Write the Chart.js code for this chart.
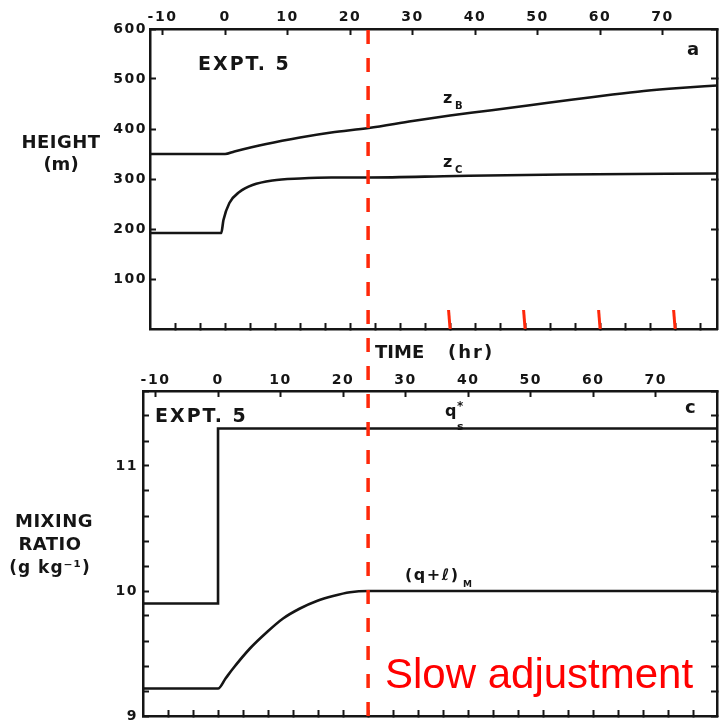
<!DOCTYPE html>
<html>
<head>
<meta charset="utf-8">
<script src="https://cdn.jsdelivr.net/npm/chart.js@4.4.1/dist/chart.umd.min.js"></script>
<style>
  html, body { margin: 0; padding: 0; background: #fff; }
  #wrap { position: relative; width: 719px; height: 720px; overflow: hidden; }
  canvas { position: absolute; left: 0; top: 0; }
</style>
</head>
<body>
<div id="wrap">
  <canvas id="heightChart" width="719" height="360"></canvas>
  <canvas id="mixingChart" width="719" height="720"></canvas>
</div>
<script>
// time axis (hr)
const timeLabelTicks = [-10, 0, 10, 20, 30, 40, 50, 60, 70];
const timeMinorTicks = [-8, -4, 0, 4, 8, 12, 16, 20, 24, 28, 32, 36, 40, 44, 48, 52, 56, 60, 64, 68, 72, 76];

// panel a : heights (m)
const heightTicks = [100, 200, 300, 400, 500, 600];
const zbHours  = [-12, 0, 1.5, 6.6, 12, 17, 23, 30, 36, 41, 46, 51.4, 57, 62, 67, 72.7, 78.7];
const zbHeight = [350, 350, 355, 370, 383, 393, 402, 416, 427, 435, 443, 452, 461, 469, 476, 482, 487];
const zcHours  = [-12, -0.6, -0.25, 0.7, 2.3, 4.4, 7.6, 12, 17, 23, 37, 54, 78.7];
const zcHeight = [192, 192, 218, 252, 274, 288, 297, 301, 303, 303, 306, 309, 311];

// panel c : mixing ratio (g/kg)
const mixingTicks = [9, 9.2, 9.4, 9.6, 9.8, 10, 10.2, 10.4, 10.6, 10.8, 11, 11.2, 11.4, 11.6];
const qsHours = [-12, 0, 0, 79.8];
const qsValue = [9.9, 9.9, 11.3, 11.3];
const qlHours = [-12, 0, 1.2, 2.4, 5.1, 7.8, 10.4, 13.1, 15.8, 18.4, 21.1, 24, 79.8];
const qlValue = [9.22, 9.22, 9.3, 9.38, 9.54, 9.67, 9.78, 9.86, 9.92, 9.96, 9.99, 10.0, 10.0];

// red annotations
const slowAdjustHour = 24;
const redTickHours = [36, 48, 60, 72];

const ink = '#151515';
const red = 'rgb(255, 40, 10)';
const tickFont = { family: 'DejaVu Sans', size: 14, weight: 'bold' };

Chart.defaults.color = ink;
Chart.defaults.font.family = 'DejaVu Sans';

function pts(xs, ys) {
    return xs.map((x, i) => ({ x: x, y: ys[i] }));
}

function fixSize(prop, size) {
    return function (scale) {
        scale[prop] = size;
        scale.paddingTop = 0;
        scale.paddingBottom = 0;
        scale.paddingLeft = 0;
        scale.paddingRight = 0;
    };
}

function setTicks(values) {
    return function (scale) {
        scale.ticks = values.map(v => ({ value: v }));
    };
}

function axis(position, min, max, size, tickValues, showLabels, padding) {
    const horizontal = position === 'top' || position === 'bottom';
    return {
        type: 'linear',
        position: position,
        min: min,
        max: max,
        afterFit: fixSize(horizontal ? 'height' : 'width', size),
        afterBuildTicks: setTicks(tickValues),
        grid: {
            drawOnChartArea: false,
            tickLength: -6,
            tickColor: ink,
            tickWidth: 2
        },
        border: { display: true, color: ink, width: 2.5 },
        ticks: {
            display: showLabels,
            autoSkip: false,
            maxRotation: 0,
            padding: padding,
            font: tickFont,
            color: ink
        }
    };
}

function drawTexts(ctx, items) {
    items.forEach(it => {
        ctx.save();
        ctx.font = it.font;
        ctx.fillStyle = it.color || ink;
        ctx.textAlign = it.align || 'left';
        ctx.textBaseline = 'alphabetic';
        ctx.letterSpacing = (it.spacing || 0) + 'px';
        ctx.fillText(it.text, it.x, it.y);
        ctx.restore();
    });
}

const B18 = 'bold 18px "DejaVu Sans"';

const topTexts = [
    { text: 'EXPT. 5', x: 198, y: 70, font: 'bold 19px "DejaVu Sans"', spacing: 2 },
    { text: 'a', x: 687, y: 55, font: B18 },
    { text: 'HEIGHT', x: 61, y: 148, font: B18, align: 'center', spacing: 0.5 },
    { text: '(m)', x: 61, y: 170, font: B18, align: 'center' },
    { text: 'z', x: 443, y: 103, font: 'bold 16px "DejaVu Sans"' },
    { text: 'B', x: 455, y: 109, font: 'bold 10px "DejaVu Sans"' },
    { text: 'z', x: 443, y: 167, font: 'bold 16px "DejaVu Sans"' },
    { text: 'C', x: 455, y: 173, font: 'bold 10px "DejaVu Sans"' },
    { text: 'TIME', x: 375, y: 358, font: B18 },
    { text: '(hr)', x: 448, y: 358, font: B18, spacing: 2 }
];

const bottomTexts = [
    { text: 'EXPT. 5', x: 155, y: 422, font: 'bold 19px "DejaVu Sans"', spacing: 2 },
    { text: 'c', x: 685, y: 413, font: B18 },
    { text: 'MIXING', x: 54, y: 527, font: B18, align: 'center', spacing: 0.5 },
    { text: 'RATIO', x: 50, y: 550, font: B18, align: 'center', spacing: 0.5 },
    { text: '(g kg\u207B\u00B9)', x: 50, y: 573, font: 'bold 17px "DejaVu Sans"', align: 'center', spacing: 1 },
    { text: 'q', x: 445, y: 416, font: 'bold 16px "DejaVu Sans"' },
    { text: '*', x: 457, y: 410, font: 'bold 12px "DejaVu Sans"' },
    { text: 's', x: 457, y: 430, font: 'bold 11px "DejaVu Sans"' },
    { text: '(q+\u2113)', x: 405, y: 580, font: 'bold 16px "DejaVu Sans"', spacing: 1.5 },
    { text: 'M', x: 463, y: 587, font: 'bold 9px "DejaVu Sans"' },
    { text: 'Slow adjustment', x: 385, y: 688, font: '42px "Liberation Sans"', color: '#ff0000' }
];

// tick labels of the old figure are widely spaced
const spacingPlugin = {
    id: 'spacing',
    beforeDraw(chart) { chart.ctx.letterSpacing = '1.5px'; },
    afterDraw(chart) { chart.ctx.letterSpacing = '0px'; }
};

const topAnnotations = {
    id: 'topAnnotations',
    afterDraw(chart) {
        const ctx = chart.ctx;
        const xs = chart.scales.x;
        const ys = chart.scales.y;
        ctx.save();
        ctx.strokeStyle = red;
        ctx.lineWidth = 3;
        redTickHours.forEach(h => {
            const px = xs.getPixelForValue(h);
            const py = ys.getPixelForValue(0);
            ctx.beginPath();
            ctx.moveTo(px, py);
            ctx.lineTo(px - 1.5, py - 19);
            ctx.stroke();
        });
        ctx.restore();
        drawTexts(ctx, topTexts);
    }
};

const bottomAnnotations = {
    id: 'bottomAnnotations',
    afterDraw(chart) {
        const ctx = chart.ctx;
        drawTexts(ctx, bottomTexts);
        const px = chart.scales.x.getPixelForValue(slowAdjustHour);
        ctx.save();
        ctx.strokeStyle = red;
        ctx.lineWidth = 3.5;
        ctx.setLineDash([14, 14]);
        ctx.beginPath();
        ctx.moveTo(px, 30);
        ctx.lineTo(px, 720);
        ctx.stroke();
        ctx.restore();
    }
};

const lineStyle = {
    borderColor: ink,
    borderWidth: 2.6,
    pointRadius: 0,
    fill: false,
    cubicInterpolationMode: 'monotone'
};

const heightChart = new Chart(document.getElementById('heightChart'), {
    type: 'line',
    data: {
        datasets: [
            Object.assign({ label: 'zB', data: pts(zbHours, zbHeight) }, lineStyle),
            Object.assign({ label: 'zC', data: pts(zcHours, zcHeight) }, lineStyle)
        ]
    },
    options: {
        responsive: false,
        animation: false,
        devicePixelRatio: 1,
        layout: { padding: 0 },
        plugins: { legend: { display: false }, tooltip: { enabled: false } },
        scales: {
            x: axis('bottom', -12, 78.7, 31, timeMinorTicks, false, 0),
            xTop: axis('top', -12, 78.7, 29, timeLabelTicks, true, 9),
            y: axis('left', 0, 600, 150, heightTicks, true, 9),
            yRight: axis('right', 0, 600, 2, heightTicks, false, 0)
        }
    },
    plugins: [spacingPlugin, topAnnotations]
});

const mixingY = axis('left', 9, 11.6, 143, mixingTicks, true, 11);
mixingY.ticks.callback = function (value) {
    return Number.isInteger(value) ? String(value) : '';
};

const mixingChart = new Chart(document.getElementById('mixingChart'), {
    type: 'line',
    data: {
        datasets: [
            Object.assign({}, lineStyle, { label: 'qs*', data: pts(qsHours, qsValue), cubicInterpolationMode: 'default', tension: 0 }),
            Object.assign({ label: '(q+l)M', data: pts(qlHours, qlValue) }, lineStyle)
        ]
    },
    options: {
        responsive: false,
        animation: false,
        devicePixelRatio: 1,
        layout: { padding: 0 },
        plugins: { legend: { display: false }, tooltip: { enabled: false } },
        scales: {
            x: axis('bottom', -12, 79.8, 4, timeMinorTicks, false, 0),
            xTop: axis('top', -12, 79.8, 391, timeLabelTicks, true, 8),
            y: mixingY,
            yRight: axis('right', 9, 11.6, 2, mixingTicks, false, 0)
        }
    },
    plugins: [spacingPlugin, bottomAnnotations]
});
</script>
</body>
</html>
